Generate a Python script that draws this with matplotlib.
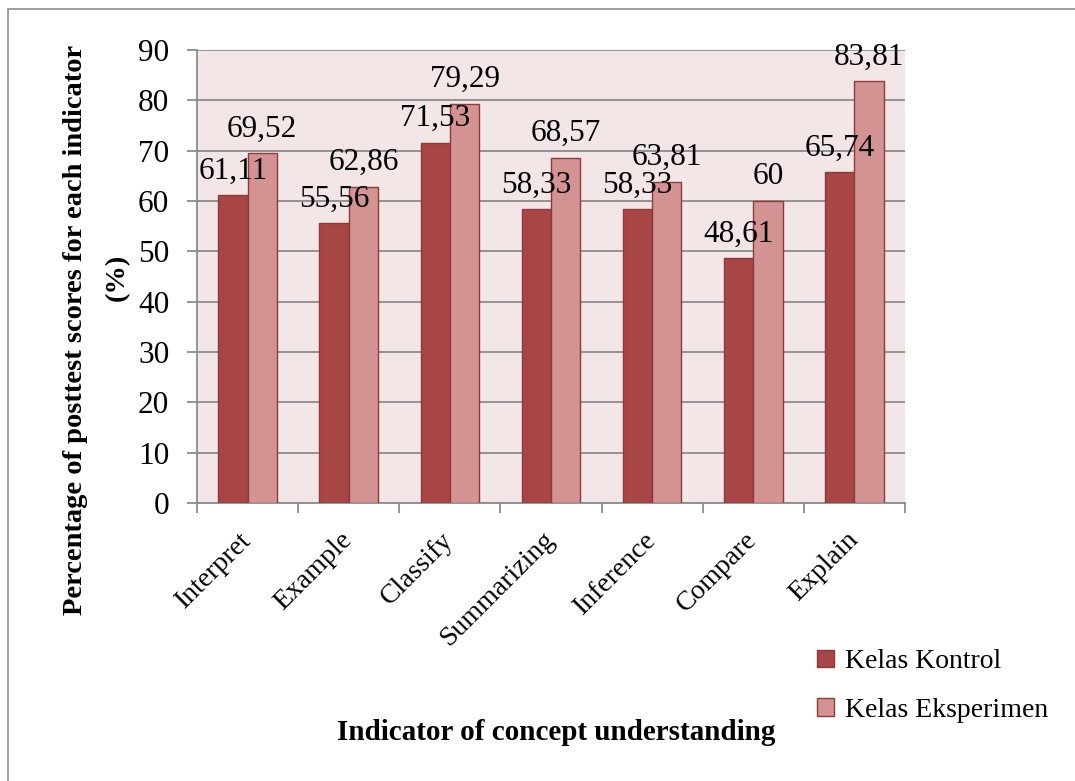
import matplotlib
matplotlib.use('Agg')
import matplotlib.pyplot as plt
from matplotlib.patches import Rectangle, Patch
import numpy as np

categories = ['Interpret', 'Example', 'Classify', 'Summarizing', 'Inference', 'Compare', 'Explain']
kontrol = [61.11, 55.56, 71.53, 58.33, 58.33, 48.61, 65.74]
eksperimen = [69.52, 62.86, 79.29, 68.57, 63.81, 60, 83.81]
series_names = ['Kelas Kontrol', 'Kelas Eksperimen']

plt.rcParams['font.family'] = ['Liberation Serif', 'DejaVu Serif']

W, H = 1075, 781
fig = plt.figure(figsize=(W / 100, H / 100), dpi=100)

# outer frame of the chart object (cut off at right and bottom)
fig.patches.append(Rectangle((8 / W, -0.1), 1.2, 1 - 9 / H + 0.1, transform=fig.transFigure,
                             fill=False, edgecolor='#8c8c8c', linewidth=1.2))

ax = fig.add_axes([197 / W, (H - 503) / H, 708 / W, 453 / H])
ax.set_facecolor('#f2e6e6')

c_kon = '#a84545'
c_eks = '#d49393'
edge = '#8e3a3a'
grid = '#8c8c8c'

x = np.arange(len(categories))
bw = 0.29
b1 = ax.bar(x - bw / 2, kontrol, bw, color=c_kon, edgecolor=edge, linewidth=1, zorder=3)
b2 = ax.bar(x + bw / 2, eksperimen, bw, color=c_eks, edgecolor=edge, linewidth=1, zorder=3)

def fmt(v):
    s = ('%.2f' % v).rstrip('0').rstrip('.')
    return s.replace('.', ',')

for bars, vals in ((b1, kontrol), (b2, eksperimen)):
    for b, v in zip(bars, vals):
        ax.annotate(fmt(v), (b.get_x() + b.get_width() / 2, v), xytext=(0, 7),
                    textcoords='offset points', ha='center', va='bottom',
                    fontsize=22.5, zorder=5)

ax.set_xlim(-0.5, len(categories) - 0.5)
ax.set_ylim(0, 90)
ax.set_yticks(range(0, 91, 10))
ax.yaxis.grid(True, color=grid, linewidth=1.3, zorder=0)
ax.set_axisbelow(True)

ax.set_xticks(x)
ax.set_xticklabels(categories, rotation=45, ha='right', va='center', rotation_mode='anchor', fontsize=20)
ax.set_xticks(np.arange(-0.5, len(categories), 1), minor=True)
ax.tick_params(axis='x', which='major', length=0, pad=24)
ax.tick_params(axis='x', which='minor', length=7, width=1.3, color=grid)
ax.tick_params(axis='y', length=7, width=1.3, color=grid, labelsize=22.5, pad=13)

for s in ('top', 'right'):
    ax.spines[s].set_visible(False)
for s in ('left', 'bottom'):
    ax.spines[s].set_color(grid)
    ax.spines[s].set_linewidth(1.3)

# y title: two lines, placed separately as in the original
fig.text(76 / W, 1 - 330 / H, 'Percentage of posttest scores for each indicator',
         rotation=90, ha='center', va='center', fontsize=20.5, fontweight='bold')
fig.text(117 / W, 1 - 277 / H, '(%)',
         rotation=90, ha='center', va='center', fontsize=20.5, fontweight='bold')
fig.text(556 / W, 1 - 733 / H, 'Indicator of concept understanding',
         ha='center', va='center', fontsize=21, fontweight='bold')

handles = [Patch(facecolor=c_kon, edgecolor=edge), Patch(facecolor=c_eks, edgecolor=edge)]
fig.legend(handles, series_names, loc='center left', bbox_to_anchor=(803 / W, 1 - 686 / H),
           frameon=False, fontsize=20, handlelength=0.6, handleheight=0.6,
           handletextpad=0.4, labelspacing=0.85, borderpad=0)

fig.savefig('out.png', dpi=100)
